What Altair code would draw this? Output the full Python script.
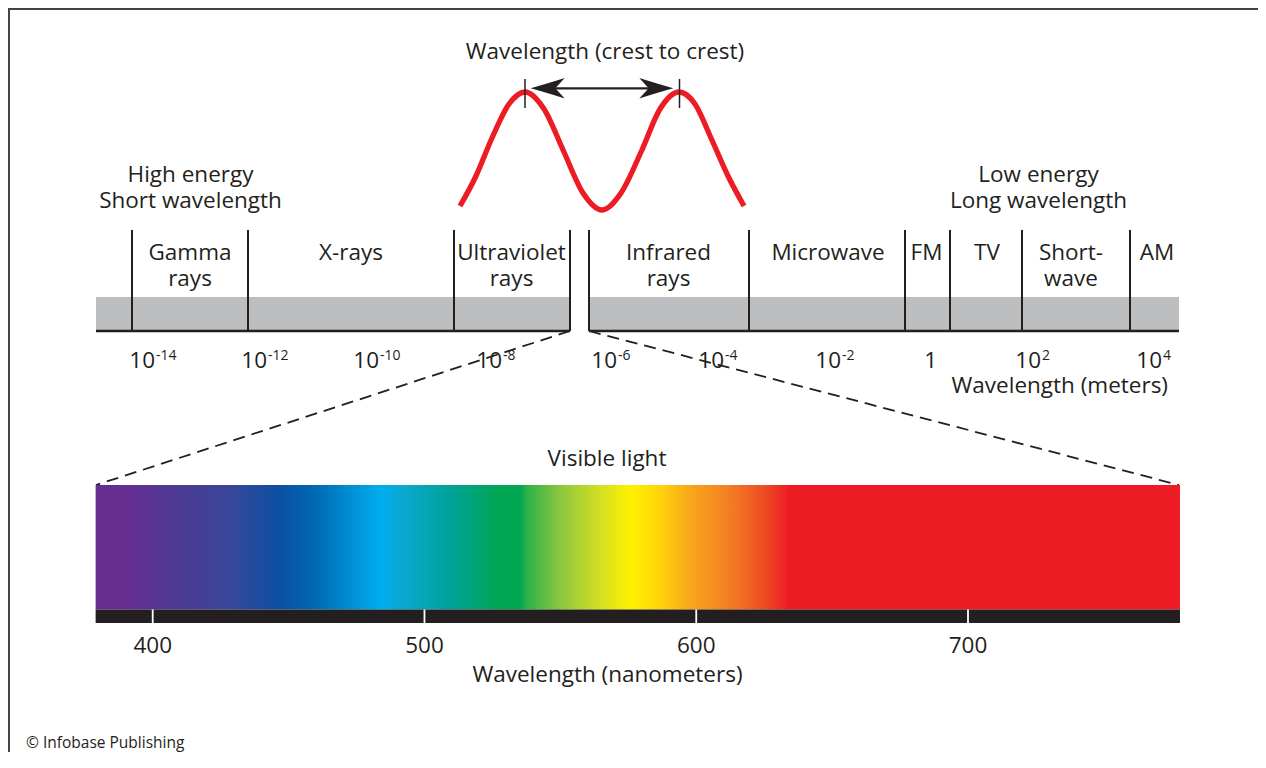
import altair as alt
import pandas as pd

# ---------------- data ----------------
BAND_LINE1 = ["Gamma", "X-rays", "Ultraviolet", "Infrared", "Microwave", "FM", "TV", "Short-", "AM"]
BAND_LINE2 = ["rays", "", "rays", "rays", "", "", "", "wave", ""]
EXP_BASE = ["10", "10", "10", "10", "10", "10", "10", "1", "10", "10"]
EXPONENTS = ["-14", "-12", "-10", "-8", "-6", "-4", "-2", "", "2", "4"]
NM_TICKS = [400, 500, 600, 700]
VISIBLE_NM = [379, 778]
SPECTRUM_NM = [379, 389, 410, 428, 446, 459, 484, 491, 509, 528, 535, 538, 550, 565,
               576, 587, 598, 613, 626, 634, 778]
SPECTRUM_COLORS = ["#662d91", "#662d91", "#4b3a93", "#3a4699", "#0d4fa2", "#0067b1",
                   "#00aeef", "#0aa9d4", "#00a29a", "#00a651", "#00a651", "#2fb24a",
                   "#8dc63f", "#d4e021", "#fff200", "#ffd20a", "#f9a61b", "#f37b22",
                   "#ee4823", "#ed1c24", "#ed1c24"]

# ---------------- layout (page pixels) ----------------
W, H = 1250, 744
INK = "#231f20"
FONT = "Open Sans"
FS = 22.5
BAND_LABEL_X = [190, 351, 511.5, 668.5, 828, 926.5, 987, 1071, 1157]
DIVIDER_X = [132, 248, 454, 570, 589, 749, 905, 950, 1022, 1130]
SEG_START = [96, 589]
SEG_END = [570, 1179]
EXP_ANCHOR_X = [155, 267, 379, 502, 617, 724, 841, 937, 1041, 1162]
WAVE_X = [460, 476, 492, 509, 525, 544, 563.5, 583, 602, 621, 641.5, 660, 679, 695, 711, 728, 744]
WAVE_Y = [206, 176, 138, 104, 92, 109, 151, 193, 210, 193, 151, 109, 92, 104, 138, 176, 206]

XS = alt.Scale(domain=[8, 8 + W])
YS = alt.Scale(domain=[8, 8 + H], reverse=True)
NS = alt.Scale(domain=[400, 700], range=[152.7 - 8, 968 - 8])


def X(f="x"):
    return alt.X(f"{f}:Q", scale=XS, axis=None)


def X2(f="x2"):
    return alt.X2(f"{f}:Q")


def Y(f="y"):
    return alt.Y(f"{f}:Q", scale=YS, axis=None)


def Y2(f="y2"):
    return alt.Y2(f"{f}:Q")


def NX(f="nm"):
    return alt.X(f"{f}:Q", scale=NS, axis=None)


def texts(df, size, align, color=INK):
    return alt.Chart(df).mark_text(font=FONT, fontSize=size, align=align,
                                   baseline="alphabetic", color=color).encode(
        x=X(), y=Y(), text="t:N")


layers = []

# frame (top and left edges only)
layers.append(alt.Chart(pd.DataFrame({"x": [8], "x2": [8 + W], "y": [9]})).mark_rule(
    color="#444444", strokeWidth=2).encode(x=X(), x2=X2(), y=Y()))
layers.append(alt.Chart(pd.DataFrame({"x": [9], "y": [8], "y2": [8 + H]})).mark_rule(
    color="#444444", strokeWidth=2).encode(x=X(), y=Y(), y2=Y2()))

# wave
wave = pd.DataFrame({"x": WAVE_X, "y": WAVE_Y, "o": range(len(WAVE_X))})
layers.append(alt.Chart(wave).mark_line(color="#ed1c24", strokeWidth=5.3, interpolate="monotone",
                                        strokeCap="butt").encode(x=X(), y=Y(), order="o:Q"))

# crest markers and arrow
crest = pd.DataFrame({"x": [525, 679.5], "y": [79, 79], "y2": [108, 108]})
layers.append(alt.Chart(crest).mark_rule(color=INK, strokeWidth=1.5).encode(x=X(), y=Y(), y2=Y2()))
shaft = pd.DataFrame({"x": [540], "x2": [664], "y": [88.3]})
layers.append(alt.Chart(shaft).mark_rule(color=INK, strokeWidth=2.2).encode(x=X(), x2=X2(), y=Y()))
LEFT_HEAD = "M-1,0 Q-0.1,-0.25 1,-0.6 L0.45,0 L1,0.6 Q-0.1,0.25 -1,0 Z"
RIGHT_HEAD = "M1,0 Q0.1,-0.25 -1,-0.6 L-0.45,0 L-1,0.6 Q0.1,0.25 1,0 Z"
layers.append(alt.Chart(pd.DataFrame({"x": [547.7], "y": [88.3]})).mark_point(
    shape=LEFT_HEAD, filled=True, size=1156, color=INK, opacity=1, strokeWidth=0).encode(x=X(), y=Y()))
layers.append(alt.Chart(pd.DataFrame({"x": [656.3], "y": [88.3]})).mark_point(
    shape=RIGHT_HEAD, filled=True, size=1156, color=INK, opacity=1, strokeWidth=0).encode(x=X(), y=Y()))

# gray band, baseline, dividers
seg = pd.DataFrame({"x": SEG_START, "x2": SEG_END, "y": [297, 297], "y2": [331, 331]})
layers.append(alt.Chart(seg).mark_rect(fill="#bcbec0").encode(x=X(), x2=X2(), y=Y(), y2=Y2()))
layers.append(alt.Chart(seg).mark_rule(color=INK, strokeWidth=2.5).encode(x=X(), x2=X2(), y=Y("y2")))
div = pd.DataFrame({"x": DIVIDER_X, "y": [230] * len(DIVIDER_X), "y2": [331] * len(DIVIDER_X)})
layers.append(alt.Chart(div).mark_rule(color=INK, strokeWidth=2).encode(x=X(), y=Y(), y2=Y2()))

# dashed connectors
dash = pd.DataFrame({"x": [570, 589], "y": [331, 331], "x2": [96, 1179], "y2": [485, 485]})
layers.append(alt.Chart(dash).mark_rule(color=INK, strokeWidth=1.8, strokeDash=[12, 7]).encode(
    x=X(), y=Y(), x2=X2(), y2=Y2()))

# visible spectrum (nanometer scale)
offs = [(v - VISIBLE_NM[0]) / (VISIBLE_NM[1] - VISIBLE_NM[0]) for v in SPECTRUM_NM]
grad = {"gradient": "linear", "x1": 0, "y1": 0, "x2": 1, "y2": 0,
        "stops": [{"offset": o, "color": c} for o, c in zip(offs, SPECTRUM_COLORS)]}
vis = pd.DataFrame({"nm": [VISIBLE_NM[0]], "nm2": [VISIBLE_NM[1]], "y": [485], "y2": [609.5],
                    "yb": [623]})
layers.append(alt.Chart(vis).mark_rect(fill=grad).encode(x=NX(), x2=alt.X2("nm2:Q"), y=Y(), y2=Y2()))
layers.append(alt.Chart(vis).mark_rect(fill=INK).encode(x=NX(), x2=alt.X2("nm2:Q"), y=Y("y2"), y2=Y2("yb")))
ticks = pd.DataFrame({"nm": NM_TICKS, "y": [609.5] * 4, "y2": [623] * 4,
                      "t": [str(v) for v in NM_TICKS], "yl": [653] * 4})
layers.append(alt.Chart(ticks).mark_rule(color="white", strokeWidth=1.8).encode(x=NX(), y=Y(), y2=Y2()))
layers.append(alt.Chart(ticks).mark_text(font=FONT, fontSize=FS, align="center", baseline="alphabetic",
                                         color=INK).encode(x=NX(), y=Y("yl"), text="t:N"))

# centered texts
ctext = [("Wavelength (crest to crest)", 605, 59),
         ("High energy", 190.5, 182), ("Short wavelength", 190.5, 208),
         ("Low energy", 1038.5, 182), ("Long wavelength", 1038.5, 208),
         ("Visible light", 607, 466), ("Wavelength (nanometers)", 607.5, 682)]
for xx, l1, l2 in zip(BAND_LABEL_X, BAND_LINE1, BAND_LINE2):
    ctext.append((l1, xx, 259.5))
    if l2:
        ctext.append((l2, xx, 285.5))
cdf = pd.DataFrame(ctext, columns=["t", "x", "y"])
layers.append(texts(cdf, FS, "center"))

# exponent labels
base = pd.DataFrame({"t": EXP_BASE + ["Wavelength (meters)"],
                     "x": EXP_ANCHOR_X + [1168], "y": [368] * len(EXP_BASE) + [393]})
layers.append(texts(base, FS, "right"))
sup = pd.DataFrame({"t": EXPONENTS, "x": [a + 1 for a in EXP_ANCHOR_X], "y": [360] * len(EXPONENTS)})
sup = sup[sup.t != ""]
layers.append(texts(sup, 14, "left"))

# copyright
layers.append(texts(pd.DataFrame({"t": ["© Infobase Publishing"], "x": [26], "y": [748]}), 15.5, "left"))

# white strip over the right edge of the drawing area
layers.append(alt.Chart(pd.DataFrame({"x": [8 + W - 3], "x2": [8 + W + 2], "y": [11], "y2": [8 + H]})).mark_rect(
    fill="white").encode(x=X(), x2=X2(), y=Y(), y2=Y2()))

chart = alt.layer(*layers).resolve_scale(x="independent").properties(
    width=W, height=H, autosize=alt.AutoSizeParams(type="none"), padding=0,
    background="white").configure_view(stroke="transparent", strokeWidth=0)

chart.save("out.html", embed_options={"renderer": "svg", "actions": False})
